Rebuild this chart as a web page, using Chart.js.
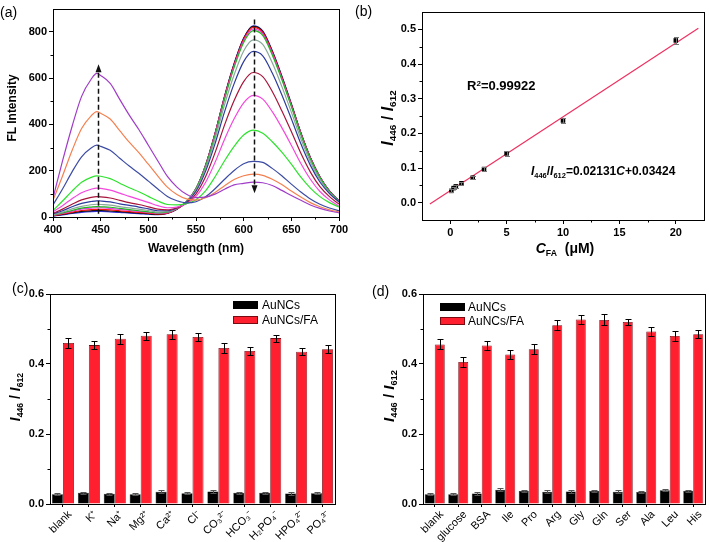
<!DOCTYPE html>
<html>
<head>
<meta charset="utf-8">
<script src="https://cdn.jsdelivr.net/npm/chart.js@4.4.1/dist/chart.umd.min.js"></script>
<style>
  body { margin: 0; background: #fff; }
  #fig { position: relative; width: 709px; height: 542px; overflow: hidden;
         font-family: "Liberation Sans", Arial, sans-serif; color: #000; }
  #fig canvas { position: absolute; }
  .t { position: absolute; white-space: nowrap; line-height: 1; }
  .rot { transform: translate(-50%, -50%) rotate(-90deg); }
  .ctr { transform: translate(-50%, -50%); }
  .b { font-weight: bold; }
  .t sub { font-size: 0.62em; vertical-align: -0.35em; line-height: 0; }
  .t sup { font-size: 0.62em; vertical-align: 0.55em; line-height: 0; }
  .sw { position: absolute; box-sizing: border-box; }
</style>
</head>
<body>
<div id="fig">
  <canvas id="ca" width="355" height="270" style="left:0;top:0"></canvas>
  <canvas id="cb" width="354" height="270" style="left:355px;top:0"></canvas>
  <canvas id="cc" width="355" height="272" style="left:0;top:270px"></canvas>
  <canvas id="cd" width="354" height="272" style="left:355px;top:270px"></canvas>

  <!-- panel letters -->
  <div class="t" style="left:0;top:5px;font-size:14px">(a)</div>
  <div class="t" style="left:355px;top:4px;font-size:14px">(b)</div>
  <div class="t" style="left:12px;top:281px;font-size:14px">(c)</div>
  <div class="t" style="left:372px;top:284px;font-size:14px">(d)</div>

  <!-- axis titles -->
  <div class="t b rot" style="left:12px;top:108px;font-size:12px">FL Intensity</div>
  <div class="t b ctr" style="left:196px;top:248px;font-size:12px">Wavelength (nm)</div>
  <div class="t b rot" style="left:388px;top:118px;font-size:16px"><i>I</i><sub>446</sub> / <i>I</i><sub>612</sub></div>
  <div class="t b ctr" style="left:565px;top:248px;font-size:14px"><i>C</i><sub>FA</sub>&nbsp; (μM)</div>
  <div class="t b rot" style="left:15px;top:397px;font-size:14px"><i>I</i><sub>446</sub> / <i>I</i><sub>612</sub></div>
  <div class="t b rot" style="left:388px;top:396px;font-size:15px"><i>I</i><sub>446</sub> / <i>I</i><sub>612</sub></div>

  <!-- annotations in (b) -->
  <div class="t b" style="left:467px;top:79px;font-size:13px">R<sup>2</sup>=0.99922</div>
  <div class="t b" style="left:531px;top:165px;font-size:12px"><i>I</i><sub>446</sub>/<i>I</i><sub>612</sub>=0.02131<i>C</i>+0.03424</div>

  <!-- legends -->
  <div class="sw" style="left:233px;top:301px;width:25px;height:8px;background:#000"></div>
  <div class="sw" style="left:233px;top:316px;width:25px;height:8px;background:#ff1f2f;border:1px solid #7a0a12"></div>
  <div class="t" style="left:262px;top:299px;font-size:12px">AuNCs</div>
  <div class="t" style="left:262px;top:314px;font-size:12px">AuNCs/FA</div>

  <div class="sw" style="left:440px;top:303px;width:25px;height:8px;background:#000"></div>
  <div class="sw" style="left:440px;top:317px;width:25px;height:8px;background:#ff1f2f;border:1px solid #7a0a12"></div>
  <div class="t" style="left:468px;top:301px;font-size:12px">AuNCs</div>
  <div class="t" style="left:468px;top:315px;font-size:12px">AuNCs/FA</div>
</div>

<script>
// ---- (a) emission spectra ----
var waves = [400, 410, 420, 430, 440, 446, 450, 460, 470, 480, 490, 500, 510, 520, 530, 540,
             550, 560, 570, 580, 590, 600, 610, 620, 630, 640, 650, 660, 670, 680, 690, 700];
var specPurple  = [81, 242, 391, 521, 595, 620, 611, 577, 508, 440, 378, 310, 242, 175, 129, 98, 84, 86, 99, 120, 139, 145, 151, 148, 136, 115, 93, 72, 52, 37, 26, 18];
var specOrange  = [72, 177, 287, 382, 437, 455, 448, 423, 373, 323, 278, 228, 177, 129, 97, 78, 73, 83, 106, 135, 162, 178, 185, 180, 163, 140, 112, 86, 62, 44, 31, 22];
var specBlue    = [52, 121, 195, 260, 298, 310, 305, 288, 254, 220, 189, 155, 121, 89, 70, 61, 66, 87, 122, 163, 201, 230, 240, 236, 210, 178, 142, 108, 78, 55, 39, 27];
var specGreen   = [28, 69, 112, 150, 171, 178, 176, 166, 146, 126, 109, 89, 69, 54, 52, 58, 75, 113, 174, 243, 305, 354, 375, 362, 325, 280, 228, 172, 125, 88, 62, 43];
var specMagenta = [22, 49, 79, 105, 120, 125, 124, 116, 103, 89, 76, 63, 49, 40, 43, 57, 89, 149, 236, 336, 424, 493, 525, 509, 455, 386, 310, 231, 163, 110, 74, 47];
var specWine    = [16, 34, 55, 74, 85, 88, 87, 82, 72, 62, 54, 44, 34, 31, 40, 59, 100, 174, 278, 398, 503, 585, 624, 606, 542, 459, 369, 275, 194, 131, 88, 56];
var specNavy    = [13, 27, 44, 59, 67, 70, 69, 65, 57, 50, 43, 35, 27, 27, 39, 64, 111, 197, 317, 455, 576, 671, 715, 696, 622, 528, 424, 316, 223, 151, 101, 65];
var specGrey    = [10, 21, 35, 46, 53, 55, 54, 51, 45, 39, 34, 28, 21, 23, 38, 66, 117, 209, 338, 486, 614, 717, 765, 745, 666, 564, 453, 338, 238, 161, 104, 65];
var specGreen2  = [8, 18, 28, 38, 43, 45, 44, 42, 37, 32, 27, 22, 18, 21, 37, 67, 122, 219, 352, 509, 646, 754, 805, 784, 700, 594, 477, 356, 250, 170, 110, 68];
var specPink    = [7, 16, 25, 34, 38, 40, 40, 37, 33, 28, 24, 20, 16, 19, 36, 66, 122, 220, 357, 514, 652, 761, 812, 791, 707, 599, 481, 359, 253, 171, 111, 68];
var specRed     = [6, 13, 21, 28, 32, 33, 33, 31, 27, 23, 20, 17, 13, 17, 35, 66, 122, 222, 360, 519, 658, 768, 819, 797, 713, 604, 485, 362, 255, 173, 112, 69];
var specBlack   = [5, 11, 18, 24, 27, 28, 28, 26, 23, 20, 17, 14, 11, 16, 34, 66, 123, 223, 361, 521, 661, 771, 823, 801, 716, 607, 487, 363, 256, 173, 112, 69];
var specBlue2   = [4, 9, 15, 20, 23, 24, 24, 22, 20, 17, 15, 12, 10, 15, 33, 65, 122, 223, 362, 522, 663, 773, 826, 804, 718, 609, 489, 364, 257, 174, 113, 70];

// dashed arrows in (a): wavelength, start and end intensity
var arrowX    = [447, 611];
var arrowFrom = [14, 853];
var arrowTo   = [660, 103];

// ---- (b) calibration ----
var concFA    = [0.1, 0.3, 0.5, 1, 2, 3, 5, 10, 20];
var ratioFA   = [0.034, 0.042, 0.047, 0.056, 0.072, 0.097, 0.142, 0.237, 0.468];
var ratioErr  = [0.004, 0.004, 0.004, 0.004, 0.005, 0.005, 0.007, 0.007, 0.010];
var fitX      = [-1.8, 22];
var fitY      = [-0.004, 0.503];

// ---- (c) ions ----
var ionLabels = ['blank', 'K⁺', 'Na⁺', 'Mg²⁺', 'Ca²⁺', 'Cl⁻', 'CO₃²⁻', 'HCO₃⁻', 'H₂PO₄⁻', 'HPO₄²⁻', 'PO₄³⁻'];
var ionAu     = [0.028, 0.032, 0.029, 0.028, 0.035, 0.031, 0.036, 0.032, 0.032, 0.030, 0.031];
var ionAuErr  = [0.003, 0.003, 0.003, 0.003, 0.004, 0.003, 0.004, 0.003, 0.003, 0.003, 0.003];
var ionFA     = [0.460, 0.454, 0.472, 0.481, 0.485, 0.477, 0.446, 0.437, 0.474, 0.435, 0.442];
var ionFAErr  = [0.014, 0.012, 0.014, 0.011, 0.013, 0.011, 0.014, 0.012, 0.010, 0.010, 0.011];

// ---- (d) biomolecules ----
var bioLabels = ['blank', 'glucose', 'BSA', 'Ile', 'Pro', 'Arg', 'Gly', 'Gln', 'Ser', 'Ala', 'Leu', 'His'];
var bioAu     = [0.028, 0.028, 0.030, 0.041, 0.037, 0.035, 0.036, 0.037, 0.035, 0.034, 0.039, 0.038];
var bioAuErr  = [0.003, 0.003, 0.003, 0.004, 0.003, 0.004, 0.004, 0.003, 0.004, 0.003, 0.003, 0.003];
var bioFA     = [0.456, 0.406, 0.453, 0.427, 0.442, 0.511, 0.527, 0.526, 0.520, 0.493, 0.480, 0.485];
var bioFAErr  = [0.014, 0.015, 0.012, 0.014, 0.014, 0.014, 0.012, 0.016, 0.009, 0.012, 0.013, 0.011];

Chart.defaults.font.family = '"Liberation Sans", Arial, sans-serif';
Chart.defaults.color = '#000';
Chart.defaults.animation = false;
Chart.defaults.plugins.legend.display = false;
Chart.defaults.plugins.tooltip.enabled = false;

// ticks only on whole multiples of the step (Chart.js would start them at min otherwise)
function stepTicks(step) {
  return function(scale) {
    var out = [];
    var first = Math.ceil(scale.min / step - 1e-9);
    for (var k = first; k * step <= scale.max + 1e-9; k++) {
      out.push({ value: Math.round(k * step * 1e6) / 1e6 });
    }
    scale.ticks = out;
  };
}

function linAxis(min, max, step, digits, size, vertical) {
  return {
    type: 'linear', min: min, max: max,
    afterBuildTicks: stepTicks(step),
    afterFit: function(s) { if (vertical) s.width = size; else s.height = size; },
    ticks: {
      stepSize: step, padding: 2, autoSkip: false, maxRotation: 0,
      font: { size: 11, weight: 'bold' },
      callback: function(v) { return Math.abs(v) < 1e-9 ? (0).toFixed(digits) : v.toFixed(digits); }
    },
    grid: { drawOnChartArea: false, tickLength: 4, color: '#000' },
    border: { display: false }
  };
}

// box around the plot plus minor ticks between the major ones
var framePlugin = {
  id: 'frame',
  afterDraw: function(chart, args, opts) {
    var a = chart.chartArea, ctx = chart.ctx;
    ctx.save();
    ctx.strokeStyle = '#000';
    ctx.lineWidth = 1;
    ctx.strokeRect(Math.round(a.left) + 0.5, Math.round(a.top) + 0.5,
                   Math.round(a.right - a.left), Math.round(a.bottom - a.top));
    (opts.minor || []).forEach(function(id) {
      var s = chart.scales[id];
      var vals = s.ticks.map(function(t) { return t.value; });
      if (vals.length < 2) return;
      var half = (vals[1] - vals[0]) / 2;
      var mids = [vals[0] - half].concat(vals.map(function(v) { return v + half; }));
      ctx.beginPath();
      mids.forEach(function(m) {
        if (m <= s.min || m >= s.max) return;
        var p = Math.round(s.getPixelForValue(m)) + 0.5;
        if (s.isHorizontal()) { ctx.moveTo(p, a.bottom); ctx.lineTo(p, a.bottom + 2.5); }
        else { ctx.moveTo(a.left - 2.5, p); ctx.lineTo(a.left, p); }
      });
      ctx.stroke();
    });
    ctx.restore();
  }
};

// error bars from dataset.errors
var errorPlugin = {
  id: 'errbars',
  afterDatasetsDraw: function(chart) {
    var ctx = chart.ctx;
    chart.data.datasets.forEach(function(ds, i) {
      if (!ds.errors) return;
      var meta = chart.getDatasetMeta(i);
      var ys = chart.scales[meta.yAxisID];
      var w = ds.capWidth || 3;
      ctx.save();
      ctx.strokeStyle = ds.errorColor || '#000';
      ctx.lineWidth = 1;
      ctx.beginPath();
      meta.data.forEach(function(el, j) {
        var d = ds.data[j];
        var v = typeof d === 'object' ? d.y : d;
        var e = ds.errors[j];
        var x = Math.round(el.x) + 0.5;
        var top = Math.round(ys.getPixelForValue(v + e)) + 0.5;
        var bot = Math.round(ys.getPixelForValue(v - e)) + 0.5;
        ctx.moveTo(x, top); ctx.lineTo(x, bot);
        ctx.moveTo(x - w, top); ctx.lineTo(x + w, top);
        ctx.moveTo(x - w, bot); ctx.lineTo(x + w, bot);
      });
      ctx.stroke();
      ctx.restore();
    });
  }
};

// dashed arrows for (a)
var arrowPlugin = {
  id: 'arrows',
  afterDatasetsDraw: function(chart, args, opts) {
    var xs = chart.scales.x, ys = chart.scales.y, ctx = chart.ctx;
    ctx.save();
    ctx.strokeStyle = '#111';
    ctx.fillStyle = '#111';
    ctx.lineWidth = 1.5;
    (opts.list || []).forEach(function(a) {
      var x = Math.round(xs.getPixelForValue(a.x)) + 0.5;
      var y0 = ys.getPixelForValue(a.from), y1 = ys.getPixelForValue(a.to);
      var dir = y1 < y0 ? -1 : 1;
      ctx.setLineDash([5, 3]);
      ctx.beginPath();
      ctx.moveTo(x, y0);
      ctx.lineTo(x, y1 - dir * 6);
      ctx.stroke();
      ctx.setLineDash([]);
      ctx.beginPath();
      ctx.moveTo(x, y1);
      ctx.lineTo(x - 3, y1 - dir * 8);
      ctx.lineTo(x + 3, y1 - dir * 8);
      ctx.closePath();
      ctx.fill();
    });
    ctx.restore();
  }
};

function xy(xs, ys) {
  return xs.map(function(x, i) { return { x: x, y: ys[i] }; });
}

// ---- chart (a) ----
var specSeries = [
  [specPurple, '#a03cc8'], [specOrange, '#f48050'], [specBlue, '#3c4ca4'],
  [specGreen, '#2ee22e'], [specMagenta, '#f448dc'], [specWine, '#a8143a'],
  [specNavy, '#2c3c9c'], [specGrey, '#88a898'], [specGreen2, '#22b822'],
  [specPink, '#e83ce8'], [specRed, '#ff1010'], [specBlack, '#101010'],
  [specBlue2, '#3030e0']
];

new Chart(document.getElementById('ca'), {
  type: 'line',
  data: {
    datasets: specSeries.map(function(s) {
      return {
        data: xy(waves, s[0]), borderColor: s[1], borderWidth: 1.2,
        pointRadius: 0, fill: false, cubicInterpolationMode: 'monotone'
      };
    })
  },
  options: {
    responsive: false,
    layout: { padding: { top: 7, right: 16, bottom: 10, left: 0 } },
    scales: {
      x: linAxis(400, 700, 50, 0, 43, false),
      y: linAxis(0, 900, 200, 0, 53, true)
    },
    plugins: {
      frame: { minor: ['x', 'y'] },
      arrows: { list: arrowX.map(function(x, i) { return { x: x, from: arrowFrom[i], to: arrowTo[i] }; }) }
    }
  },
  plugins: [framePlugin, arrowPlugin]
});

// ---- chart (b) ----
new Chart(document.getElementById('cb'), {
  type: 'line',
  data: {
    datasets: [
      {
        data: xy(concFA, ratioFA), showLine: false, pointStyle: 'rect', pointRadius: 3.2,
        backgroundColor: '#000', borderColor: '#000', borderWidth: 0,
        errors: ratioErr, errorColor: '#777', capWidth: 2.5, order: 0
      },
      {
        data: xy(fitX, fitY), borderColor: '#ee3060', borderWidth: 1.2,
        pointRadius: 0, fill: false, order: 1
      }
    ]
  },
  options: {
    responsive: false,
    layout: { padding: { top: 12, right: 5, bottom: 10, left: 0 } },
    scales: {
      x: linAxis(-2.5, 22.5, 5, 0, 40, false),
      y: linAxis(-0.05, 0.55, 0.1, 1, 67, true)
    },
    plugins: { frame: { minor: ['x', 'y'] } }
  },
  plugins: [framePlugin, errorPlugin]
});

// ---- charts (c) and (d) ----
function barChart(id, labels, au, auErr, fa, faErr, yWidth, padRight) {
  return new Chart(document.getElementById(id), {
    type: 'bar',
    data: {
      labels: labels,
      datasets: [
        { label: 'AuNCs', data: au, backgroundColor: '#000', borderColor: '#000', borderWidth: 0.5,
          errors: auErr, errorColor: '#555', capWidth: 3 },
        { label: 'AuNCs/FA', data: fa, backgroundColor: '#ff1f2f', borderColor: '#7a0a12', borderWidth: 0.8,
          errors: faErr, errorColor: '#000', capWidth: 3 }
      ]
    },
    options: {
      responsive: false,
      layout: { padding: { top: 24, right: padRight, bottom: 0, left: 0 } },
      datasets: { bar: { categoryPercentage: 0.85, barPercentage: 1 } },
      scales: {
        x: {
          type: 'category',
          afterFit: function(s) { s.height = 38; },
          ticks: { minRotation: 45, maxRotation: 45, autoSkip: false, padding: 1, labelOffset: 7,
                   font: { size: 11 } },
          grid: { drawOnChartArea: false, tickLength: 3, offset: false, color: '#000' },
          border: { display: false }
        },
        y: linAxis(0, 0.6, 0.2, 1, yWidth, true)
      },
      plugins: { frame: { minor: ['y'] } }
    },
    plugins: [framePlugin, errorPlugin]
  });
}

barChart('cc', ionLabels, ionAu, ionAuErr, ionFA, ionFAErr, 50, 20);
barChart('cd', bioLabels, bioAu, bioAuErr, bioFA, bioFAErr, 68, 4);
</script>
</body>
</html>
